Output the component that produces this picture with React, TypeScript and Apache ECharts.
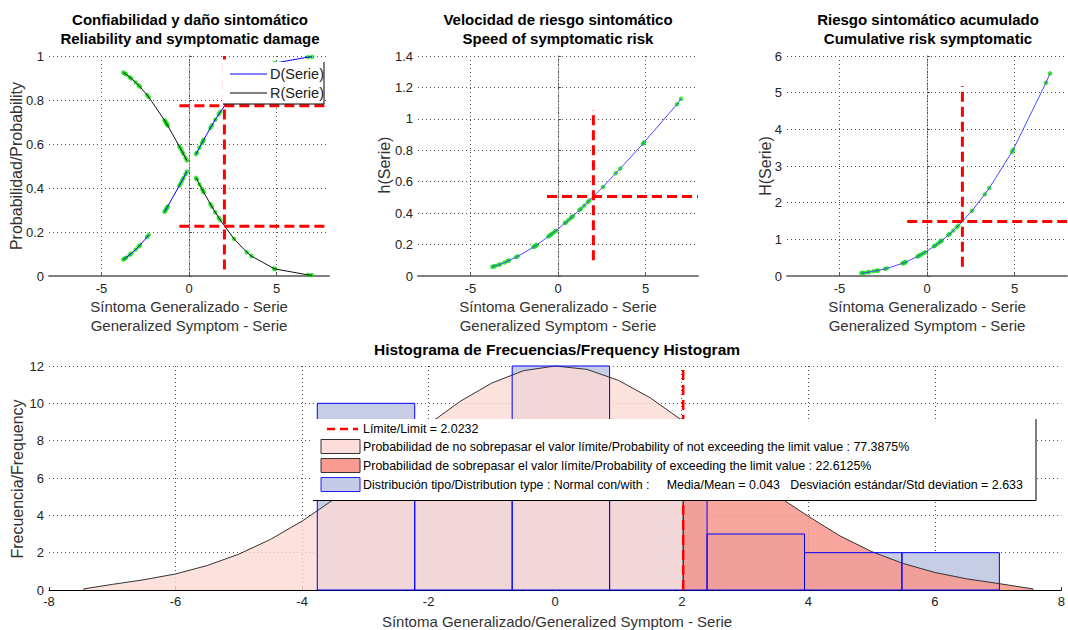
import React, { useEffect, useRef } from "react";
import * as echarts from "echarts";

// ---------- Data ----------
const sampleX = [-3.75, -3.68, -3.6, -3.4, -3.3, -3.05, -2.88, -2.8, -2.4, -2.3, -1.4, -1.35, -1.3, -1.26, -1.22, -0.55, -0.48, -0.4, -0.32, -0.2, -0.12, 0.4, 0.45, 0.6, 0.74, 0.8, 0.84, 1.22, 1.31, 1.5, 1.7, 1.79, 2.57, 3.3, 3.56, 4.85, 4.92, 6.8, 7.03];
const damageD = [0.075, 0.079, 0.083, 0.096, 0.102, 0.12, 0.134, 0.14, 0.177, 0.187, 0.292, 0.298, 0.305, 0.31, 0.316, 0.411, 0.421, 0.433, 0.445, 0.463, 0.475, 0.554, 0.561, 0.584, 0.604, 0.613, 0.619, 0.673, 0.685, 0.71, 0.735, 0.746, 0.831, 0.892, 0.909, 0.966, 0.968, 0.995, 0.996];
const reliabilityR = [0.925, 0.921, 0.917, 0.904, 0.898, 0.88, 0.866, 0.86, 0.823, 0.813, 0.708, 0.702, 0.695, 0.69, 0.684, 0.589, 0.579, 0.567, 0.555, 0.537, 0.525, 0.446, 0.439, 0.416, 0.396, 0.387, 0.381, 0.327, 0.315, 0.29, 0.265, 0.254, 0.169, 0.108, 0.091, 0.034, 0.032, 0.005, 0.004];
const hazardH = [0.058, 0.061, 0.064, 0.071, 0.075, 0.086, 0.095, 0.099, 0.12, 0.125, 0.184, 0.188, 0.191, 0.194, 0.197, 0.251, 0.257, 0.264, 0.271, 0.281, 0.288, 0.337, 0.341, 0.356, 0.37, 0.376, 0.38, 0.419, 0.428, 0.448, 0.47, 0.48, 0.567, 0.654, 0.684, 0.841, 0.851, 1.093, 1.128];
const cumulativeH = [0.078, 0.082, 0.087, 0.1, 0.108, 0.128, 0.143, 0.151, 0.195, 0.207, 0.345, 0.354, 0.364, 0.372, 0.38, 0.529, 0.547, 0.568, 0.589, 0.623, 0.645, 0.807, 0.824, 0.877, 0.927, 0.95, 0.965, 1.117, 1.155, 1.238, 1.33, 1.373, 1.78, 2.226, 2.399, 3.381, 3.442, 5.271, 5.526];
const dLineBreaks = [-1.85, 0.14];
const rLineBreaks = [0.14];

const binEdges = [-3.76, -2.22, -0.68, 0.86, 2.4, 3.94, 5.48, 7.02];
const binCounts = [10, 5, 12, 5, 3, 2, 2];

const curveX = [-7.45, -7, -6.5, -6, -5.5, -5, -4.5, -4, -3.5, -3, -2.5, -2, -1.5, -1, -0.5, 0, 0.5, 1, 1.5, 2, 2.5, 3, 3.5, 4, 4.5, 5, 5.5, 6, 6.5, 7, 7.55];
const curveY = [0.06, 0.3, 0.55, 0.86, 1.31, 1.92, 2.71, 3.69, 4.85, 6.15, 7.53, 8.88, 10.11, 11.09, 11.75, 12.0, 11.82, 11.23, 10.3, 9.1, 7.76, 6.39, 5.07, 3.95, 2.9, 2.06, 1.42, 0.94, 0.6, 0.35, 0.06];

const LIMIT = 2.0232;
const CURVE_AT_LIMIT = 9.05;
const D_AT_LIMIT = 0.7739;
const R_AT_LIMIT = 0.2261;
const h_AT_LIMIT = 0.506;
const H_AT_LIMIT = 1.486;

// guide segments (data units): [xStart, yStart, xEnd, yEnd]
const guidesTL = [[LIMIT, 0.03, LIMIT, 1.0], [-0.55, D_AT_LIMIT, 8, D_AT_LIMIT], [-0.55, R_AT_LIMIT, 8, R_AT_LIMIT]];
const guidesTM = [[LIMIT, 0.1, LIMIT, 1.056], [-0.63, h_AT_LIMIT, 8, h_AT_LIMIT]];
const guidesTR = [[LIMIT, 0.25, LIMIT, 5.18], [-1.13, H_AT_LIMIT, 8, H_AT_LIMIT]];
const guidesHist = [[LIMIT, 0, LIMIT, 12]];

const FONT = "'Liberation Sans', Arial, Helvetica, sans-serif";

function withBreaks(xs: number[], ys: number[], breaks: number[]) {
  const out: any[] = [];
  for (let i = 0; i < xs.length; i++) {
    out.push([xs[i], ys[i]]);
    if (i < xs.length - 1) {
      for (const b of breaks) {
        if (b > xs[i] && b < xs[i + 1]) out.push([b, "-"]);
      }
    }
  }
  return out;
}

function pairs(xs: number[], ys: number[]) {
  return xs.map((x, i) => [x, ys[i]]);
}

const gridLine = { color: "#555", type: [1, 3] as any, width: 1 };
const tickLabel = { color: "#222", fontSize: 13, fontFamily: FONT };

function topXAxis(gridIndex: number) {
  return {
    type: "value",
    gridIndex,
    min: -8,
    max: 8,
    splitNumber: 3,
    minInterval: 5,
    maxInterval: 5,
    axisLine: { show: true, onZero: false, lineStyle: { color: "#808080", width: 2 } },
    axisTick: { show: true, inside: true, length: 3, lineStyle: { color: "#555" } },
    axisLabel: { ...tickLabel, margin: 6, showMinLabel: false, showMaxLabel: false },
    splitLine: { show: true, showMinLine: false, showMaxLine: false, lineStyle: gridLine },
  };
}

function topYAxis(gridIndex: number, max: number, interval: number) {
  return {
    type: "value",
    gridIndex,
    min: 0,
    max,
    interval,
    axisLine: { show: true, lineStyle: { color: "#555", type: [1, 2] } },
    axisTick: { show: true, inside: true, length: 3, lineStyle: { color: "#555" } },
    axisLabel: { ...tickLabel, margin: 5 },
    splitLine: { show: true, showMinLine: false, lineStyle: gridLine },
  };
}

function guideSeries(guides: number[][], axisIndex: number, width = 3) {
  return guides.map((g) => ({
    type: "line",
    xAxisIndex: axisIndex,
    yAxisIndex: axisIndex,
    data: [[g[0], g[1]], [g[2], g[3]]],
    showSymbol: false,
    silent: true,
    lineStyle: { color: "#ff0000", width, type: [10, 5] },
    z: 8,
  }));
}

function dotSeries(xs: number[], ys: number[], axisIndex: number) {
  return {
    type: "scatter",
    xAxisIndex: axisIndex,
    yAxisIndex: axisIndex,
    data: pairs(xs, ys),
    symbol: "circle",
    symbolSize: 4.5,
    itemStyle: { color: "#10e010" },
    z: 3,
  };
}

function lineSeries(data: any[], axisIndex: number, color: string) {
  return {
    type: "line",
    xAxisIndex: axisIndex,
    yAxisIndex: axisIndex,
    data,
    showSymbol: false,
    connectNulls: false,
    lineStyle: { color, width: 1 },
    z: 4,
  };
}

function text(x: number, y: number, t: string, opts: any = {}) {
  return {
    type: "text",
    x,
    y,
    z: 100,
    rotation: opts.rotation || 0,
    style: {
      text: t,
      fill: opts.fill || "#000",
      fontSize: opts.fontSize || 15,
      fontWeight: opts.bold ? "bold" : "normal",
      fontFamily: FONT,
      align: opts.align || "center",
      verticalAlign: "middle",
    },
  };
}

function hline(x1: number, x2: number, y: number, stroke: string, lineWidth = 1, dash?: number[]) {
  return { type: "line", z: 101, shape: { x1, y1: y, x2, y2: y }, style: { stroke, lineWidth, lineDash: dash } };
}
function vline(x: number, y1: number, y2: number, stroke: string, lineWidth = 1) {
  return { type: "line", z: 101, shape: { x1: x, y1, x2: x, y2 }, style: { stroke, lineWidth } };
}

export default function App() {
  const ref = useRef<HTMLDivElement>(null);

  useEffect(() => {
    document.body.style.margin = "0";
    if (!ref.current) return;
    const chart = echarts.init(ref.current, undefined, { renderer: "svg" });

    const histData = binCounts.map((c, i) => [binEdges[i], binEdges[i + 1], c]);
    const pinkData: any[] = [[curveX[0], 0]];
    const salmonData: any[] = [[LIMIT, 0], [LIMIT, CURVE_AT_LIMIT]];
    curveX.forEach((x, i) => {
      if (x < LIMIT) pinkData.push([x, curveY[i]]);
      else salmonData.push([x, curveY[i]]);
    });
    pinkData.push([LIMIT, CURVE_AT_LIMIT], [LIMIT, 0]);
    salmonData.push([curveX[curveX.length - 1], 0]);

    const barRender = (fill: string, stroke: string) => (params: any, api: any) => {
      const p0 = api.coord([api.value(0), api.value(2)]);
      const p1 = api.coord([api.value(1), 0]);
      return {
        type: "rect",
        shape: { x: p0[0], y: p0[1], width: p1[0] - p0[0], height: p1[1] - p0[1] },
        style: { fill, stroke, lineWidth: 1 },
      };
    };

    const yName = { fill: "#333", rotation: Math.PI / 2, fontSize: 16 };

    const option: any = {
      animation: false,
      grid: [
        { left: 49, top: 56, width: 280, height: 220 },
        { left: 418, top: 56, width: 280, height: 220 },
        { left: 787, top: 56, width: 280, height: 220 },
        { left: 49, top: 366, width: 1014, height: 224 },
      ],
      xAxis: [
        topXAxis(0),
        topXAxis(1),
        topXAxis(2),
        {
          type: "value",
          gridIndex: 3,
          min: -8,
          max: 8,
          interval: 2,
          axisLine: { show: true, onZero: false, lineStyle: { color: "#000", width: 1 } },
          axisTick: { show: true, inside: true, length: 3, lineStyle: { color: "#333" } },
          axisLabel: { ...tickLabel, margin: 5 },
          splitLine: { show: true, showMinLine: false, showMaxLine: false, lineStyle: gridLine },
        },
      ],
      yAxis: [
        topYAxis(0, 1, 0.2),
        topYAxis(1, 1.4, 0.2),
        topYAxis(2, 6, 1),
        {
          type: "value",
          gridIndex: 3,
          min: 0,
          max: 12,
          interval: 2,
          axisLine: { show: true, lineStyle: { color: "#000", width: 1 } },
          axisTick: { show: true, inside: true, length: 3, lineStyle: { color: "#333" } },
          axisLabel: { ...tickLabel, margin: 5 },
          splitLine: { show: true, showMinLine: false, lineStyle: gridLine },
        },
      ],
      series: [
        // Top-left: reliability and damage
        dotSeries(sampleX, damageD, 0),
        dotSeries(sampleX, reliabilityR, 0),
        lineSeries(withBreaks(sampleX, damageD, dLineBreaks), 0, "#0000ff"),
        lineSeries(withBreaks(sampleX, reliabilityR, rLineBreaks), 0, "#111"),
        ...guideSeries(guidesTL, 0),
        // Top-middle: hazard
        dotSeries(sampleX, hazardH, 1),
        lineSeries(pairs(sampleX, hazardH), 1, "#4a4aff"),
        ...guideSeries(guidesTM, 1),
        // Top-right: cumulative hazard
        dotSeries(sampleX, cumulativeH, 2),
        lineSeries(pairs(sampleX, cumulativeH), 2, "#4a4aff"),
        ...guideSeries(guidesTR, 2),
        // Bottom: histogram
        {
          type: "custom",
          xAxisIndex: 3,
          yAxisIndex: 3,
          data: histData,
          encode: { x: [0, 1], y: 2 },
          renderItem: barRender("#c8cde6", "none"),
          z: 1,
        },
        {
          type: "line",
          xAxisIndex: 3,
          yAxisIndex: 3,
          data: pinkData,
          showSymbol: false,
          lineStyle: { color: "#333", width: 1 },
          areaStyle: { color: "rgba(251,217,212,0.8)", opacity: 1, origin: "start" },
          z: 2,
        },
        {
          type: "line",
          xAxisIndex: 3,
          yAxisIndex: 3,
          data: salmonData,
          showSymbol: false,
          lineStyle: { color: "#333", width: 1 },
          areaStyle: { color: "rgba(248,151,141,0.85)", opacity: 1, origin: "start" },
          z: 2,
        },
        {
          type: "custom",
          xAxisIndex: 3,
          yAxisIndex: 3,
          data: histData,
          encode: { x: [0, 1], y: 2 },
          renderItem: barRender("none", "#0000ff"),
          z: 5,
        },
        ...guideSeries(guidesHist, 3, 2.5),
      ],
      graphic: {
        elements: [
          // titles
          text(190, 19, "Confiabilidad y daño sintomático", { bold: true }),
          text(190, 38, "Reliability and symptomatic damage", { bold: true }),
          text(558, 19, "Velocidad de riesgo sintomático", { bold: true }),
          text(558, 38, "Speed of symptomatic risk", { bold: true }),
          text(928, 19, "Riesgo sintomático acumulado", { bold: true }),
          text(928, 38, "Cumulative risk symptomatic", { bold: true }),
          // x axis names
          text(189, 306, "Síntoma Generalizado - Serie", { fill: "#333" }),
          text(189, 325, "Generalized Symptom - Serie", { fill: "#333" }),
          text(558, 306, "Síntoma Generalizado - Serie", { fill: "#333" }),
          text(558, 325, "Generalized Symptom - Serie", { fill: "#333" }),
          text(927, 306, "Síntoma Generalizado - Serie", { fill: "#333" }),
          text(927, 325, "Generalized Symptom - Serie", { fill: "#333" }),
          // y axis names
          text(16, 166, "Probabilidad/Probability", yName),
          text(384, 165, "h(Serie)", yName),
          text(765, 166, "H(Serie)", yName),
          // bottom
          text(557, 349, "Histograma de Frecuencias/Frequency Histogram", { bold: true, fontSize: 15.5 }),
          text(557, 621, "Síntoma Generalizado/Generalized Symptom - Serie", { fill: "#333" }),
          text(17, 479, "Frecuencia/Frequency", yName),
          // top-left legend
          { type: "rect", z: 100, shape: { x: 223, y: 62, width: 101, height: 42 }, style: { fill: "#fff" } },
          vline(324, 62, 104, "#000"),
          hline(223, 324, 104, "#000"),
          hline(230, 267, 74, "#0000ff"),
          text(270, 74, "D(Serie)", { fontSize: 14.5, align: "left", fill: "#222" }),
          hline(230, 267, 93, "#000"),
          text(270, 93, "R(Serie)", { fontSize: 14.5, align: "left", fill: "#222" }),
          // bottom legend
          { type: "rect", z: 100, shape: { x: 313, y: 419, width: 723, height: 81 }, style: { fill: "#fff" } },
          vline(1036, 419, 500.5, "#000"),
          hline(313, 1036, 500.5, "#000"),
          hline(327, 358, 429, "#ff0000", 2.5, [8, 5]),
          text(363, 429, "Límite/Limit = 2.0232", { fontSize: 12.4, align: "left" }),
          { type: "rect", z: 101, shape: { x: 321, y: 439.5, width: 39, height: 14 }, style: { fill: "#fcddd9", stroke: "#333", lineWidth: 1 } },
          text(363, 447, "Probabilidad de no sobrepasar el valor límite/Probability of not exceeding the limit value : 77.3875%", { fontSize: 12.4, align: "left" }),
          { type: "rect", z: 101, shape: { x: 321, y: 458.5, width: 39, height: 14 }, style: { fill: "#f99b90", stroke: "#333", lineWidth: 1 } },
          text(363, 466, "Probabilidad de sobrepasar el valor límite/Probability of exceeding the limit value : 22.6125%", { fontSize: 12.4, align: "left" }),
          { type: "rect", z: 101, shape: { x: 321, y: 477.5, width: 39, height: 14 }, style: { fill: "#c5cae6", stroke: "#2020ff", lineWidth: 1 } },
          text(363, 485, "Distribución tipo/Distribution type : Normal con/with :     Media/Mean = 0.043   Desviación estándar/Std deviation = 2.633", { fontSize: 12.4, align: "left" }),
        ],
      },
    };

    chart.setOption(option);
    return () => chart.dispose();
  }, []);

  return <div ref={ref} style={{ width: 1068, height: 630 }} />;
}
